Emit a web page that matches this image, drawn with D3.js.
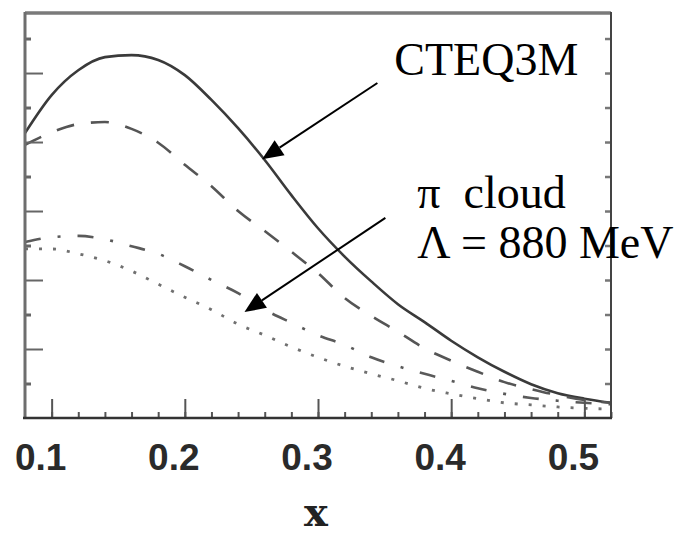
<!DOCTYPE html>
<html>
<head>
<meta charset="utf-8">
<script src="https://cdn.jsdelivr.net/npm/d3@7"></script>
<style>
    body{ margin:0; background:#fff; }
    svg{ display:block; }
</style>
</head>
<body>
<svg id="chart"></svg>
<script>

// ===============================
// DATA
// ===============================

const xValues=[0.08,0.10,0.12,0.14,0.16,0.18,0.20,0.22,0.24,0.26,0.28,0.30,
               0.32,0.34,0.36,0.38,0.40,0.42,0.44,0.46,0.48,0.50,0.52];

const cteq3m=[0.413,0.468,0.504,0.523,0.526,0.519,0.497,0.461,0.420,0.374,0.323,0.275,
              0.234,0.198,0.165,0.139,0.112,0.088,0.067,0.049,0.036,0.028,0.022];

const dashed=[0.396,0.414,0.426,0.429,0.419,0.399,0.367,0.336,0.300,0.271,0.241,0.210,
              0.174,0.148,0.125,0.101,0.083,0.067,0.052,0.042,0.033,0.026,0.022];

const dashDot=[0.255,0.262,0.264,0.259,0.249,0.238,0.220,0.200,0.181,0.157,0.138,0.120,
               0.106,0.088,0.075,0.064,0.054,0.043,0.035,0.029,0.025,0.022,0.020];

const dotted=[0.245,0.245,0.238,0.228,0.213,0.194,0.175,0.157,0.136,0.120,0.103,0.088,
              0.075,0.064,0.054,0.043,0.035,0.028,0.022,0.019,0.016,0.014,0.013];

const xTickLabels=["0.1","0.2","0.3","0.4","0.5"];

// ===============================
// LAYOUT
// ===============================

const width=686, height=536;

const plotLeft=25, plotRight=611, plotTop=13, plotBottom=418;

const svg=d3.select("#chart")
    .attr("width",width)
    .attr("height",height);

const x=d3.scaleLinear().domain([0.08,0.52]).range([plotLeft,plotRight]);

const y=d3.scaleLinear().domain([0,0.587]).range([plotBottom,plotTop]);

// ===============================
// CURVES
// ===============================

const line=d3.line()
    .x((d,i)=>x(xValues[i]))
    .y(d=>y(d))
    .curve(d3.curveMonotoneX);

const series=[
    {values:cteq3m, color:"#3a3a3a", dash:null, w:2.6},
    {values:dashed, color:"#555", dash:"18,17", w:2.6},
    {values:dashDot, color:"#5a5a5a", dash:"16,17,3,17", w:2.6},
    {values:dotted, color:"#707070", dash:"3,11", w:2.8}
];

svg.selectAll(".curve")
    .data(series)
    .enter()
    .append("path")
    .attr("class","curve")
    .attr("d",d=>line(d.values))
    .attr("fill","none")
    .attr("stroke",d=>d.color)
    .attr("stroke-width",d=>d.w)
    .attr("stroke-dasharray",d=>d.dash);

// ===============================
// AXES (ticks inside the frame)
// ===============================

svg.append("g")
    .attr("transform",`translate(0,${plotBottom})`)
    .call(d3.axisTop(x).tickValues(d3.range(0.1,0.521,0.02)).tickSize(6).tickFormat(""))
    .call(g=>g.select(".domain").remove())
    .call(g=>g.selectAll("line").attr("stroke","#555").attr("stroke-width",2));

svg.append("g")
    .attr("transform",`translate(0,${plotBottom})`)
    .call(d3.axisTop(x).tickValues([0.1,0.2,0.3,0.4,0.5]).tickSize(19).tickFormat(""))
    .call(g=>g.select(".domain").remove())
    .call(g=>g.selectAll("line").attr("stroke","#555").attr("stroke-width",2));

// left ticks
svg.append("g")
    .attr("transform",`translate(${plotLeft},0)`)
    .call(d3.axisRight(y).tickValues(d3.range(0.05,0.58,0.1)).tickSize(6).tickFormat(""))
    .call(g=>g.select(".domain").remove())
    .call(g=>g.selectAll("line").attr("stroke","#666").attr("stroke-width",3));

svg.append("g")
    .attr("transform",`translate(${plotLeft},0)`)
    .call(d3.axisRight(y).tickValues(d3.range(0.1,0.58,0.1)).tickSize(18).tickFormat(""))
    .call(g=>g.select(".domain").remove())
    .call(g=>g.selectAll("line").attr("stroke","#666").attr("stroke-width",2));

// right ticks
svg.append("g")
    .attr("transform",`translate(${plotRight},0)`)
    .call(d3.axisLeft(y).tickValues(d3.range(0.05,0.58,0.05)).tickSize(6).tickFormat(""))
    .call(g=>g.select(".domain").remove())
    .call(g=>g.selectAll("line").attr("stroke","#777").attr("stroke-width",2.5));

// frame
svg.append("line").attr("x1",plotLeft).attr("x2",plotRight).attr("y1",plotTop).attr("y2",plotTop)
    .attr("stroke","#7a7a7a").attr("stroke-width",3.5);

svg.append("line").attr("x1",plotLeft).attr("x2",plotLeft).attr("y1",plotTop-1).attr("y2",plotBottom)
    .attr("stroke","#6e6e6e").attr("stroke-width",3);

svg.append("line").attr("x1",plotRight).attr("x2",plotRight).attr("y1",plotTop-1).attr("y2",plotBottom+1)
    .attr("stroke","#444").attr("stroke-width",2);

svg.append("line").attr("x1",plotLeft-2).attr("x2",plotRight+1).attr("y1",plotBottom).attr("y2",plotBottom)
    .attr("stroke","#333").attr("stroke-width",2.5);

// tick labels
svg.selectAll(".xlabel")
    .data(xTickLabels)
    .enter()
    .append("text")
    .attr("class","xlabel")
    .attr("x",d=>x(+d)-11)
    .attr("y",470)
    .attr("text-anchor","middle")
    .attr("font-family","Liberation Sans, Arial, sans-serif")
    .attr("font-weight","bold")
    .attr("font-size",37)
    .attr("fill","#2a2a2a")
    .text(d=>d);

// axis title
svg.append("text")
    .attr("x",(plotLeft+plotRight)/2-2)
    .attr("y",526)
    .attr("text-anchor","middle")
    .attr("font-family","DejaVu Serif, serif")
    .attr("font-weight","bold")
    .attr("font-size",40)
    .attr("fill","#222")
    .text("x");

// ===============================
// ANNOTATIONS
// ===============================

const notes=[
    {text:"CTEQ3M", x:0.3573, y:0.497},
    {text:"\u03c0  cloud", x:0.3746, y:0.3043},
    {text:"\u039b = 880 MeV", x:0.3746, y:0.2319}
];

svg.selectAll(".note")
    .data(notes)
    .enter()
    .append("text")
    .attr("class","note")
    .attr("x",d=>x(d.x))
    .attr("y",d=>y(d.y))
    .attr("font-family","Liberation Serif, Times New Roman, serif")
    .attr("font-size",46)
    .attr("fill","#000")
    .style("white-space","pre")
    .text(d=>d.text);

const arrows=[
    {x1:0.3446, y1:0.4855, x2:0.258, y2:0.375},
    {x1:0.3506, y1:0.290, x2:0.2448, y2:0.1536}
];

arrows.forEach(a=>{

    const sx=x(a.x1), sy=y(a.y1), tx=x(a.x2), ty=y(a.y2);

    const ang=Math.atan2(ty-sy,tx-sx);

    const len=21, hw=9;

    const bx=tx-len*Math.cos(ang), by=ty-len*Math.sin(ang);

    svg.append("line")
        .attr("x1",sx).attr("y1",sy)
        .attr("x2",bx).attr("y2",by)
        .attr("stroke","#000")
        .attr("stroke-width",2);

    svg.append("polygon")
        .attr("points",[
            [tx,ty],
            [bx+hw*Math.sin(ang),by-hw*Math.cos(ang)],
            [bx-hw*Math.sin(ang),by+hw*Math.cos(ang)]
        ].map(p=>p.join(",")).join(" "))
        .attr("fill","#000");

});

</script>
</body>
</html>
